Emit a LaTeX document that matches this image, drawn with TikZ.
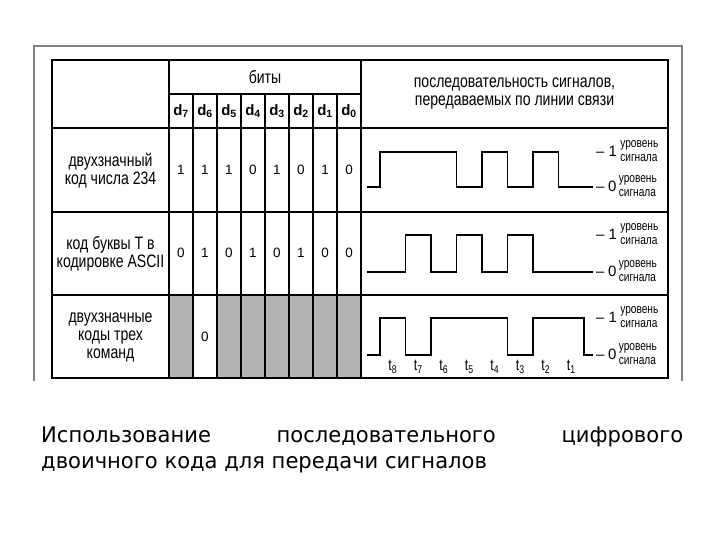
\documentclass[tikz,border=0pt]{standalone}
\usepackage{fontspec}
\setmainfont{Liberation Sans}
\newfontfamily\narrowfont{Liberation Sans}[FakeStretch=0.78]
\newfontfamily\capfont{DejaVu Sans}[FakeStretch=0.98]
\usetikzlibrary{positioning}
\definecolor{framegray}{RGB}{128,128,128}
\definecolor{cellgray}{RGB}{180,180,180}
\tikzset{
    grid line/.style={black, line width=1.8pt},
    thin grid/.style={black, line width=1.4pt},
    label text/.style={font=\narrowfont\fontsize{18}{18}\selectfont, align=center, inner sep=0pt},
    bit head/.style={font=\bfseries\fontsize{15}{15}\selectfont, inner sep=0pt},
    bit value/.style={font=\fontsize{13.5}{13.5}\selectfont, inner sep=0pt},
    wave/.style={black, line width=1.6pt, line join=miter},
    level digit/.style={font=\fontsize{15}{15}\selectfont, inner sep=0pt, anchor=west},
    level note/.style={font=\narrowfont\fontsize{13}{14.5}\selectfont, align=left, inner sep=0pt},
    time mark/.style={font=\narrowfont\fontsize{16}{16}\selectfont, inner sep=0pt},
    caption/.style={font=\capfont\fontsize{21.5}{26}\selectfont, inner sep=0pt, anchor=base west}
}
\begin{document}
\begin{tikzpicture}[x=1pt, y=-1pt]
    \useasboundingbox (0,0) rectangle (720,540);
    \draw[framegray, line width=2pt] (34,381) -- (34,46) -- (682,46) -- (682,381);

    % shaded cells of the last row
    \foreach \k in {0,2,3,4,5,6,7}
        \fill[cellgray] ({169+24*\k},295) rectangle ({193+24*\k},378);

    % table
    \draw[grid line] (52,60) rectangle (668,378);
    \draw[grid line] (52,128) -- (668,128);
    \draw[grid line] (52,212) -- (668,212);
    \draw[grid line] (52,295) -- (668,295);
    \draw[grid line] (169,60) -- (169,378);
    \draw[grid line] (361,60) -- (361,378);
    \draw[thin grid] (169,94) -- (361,94);
    \foreach \k in {1,...,7}
        \draw[thin grid] ({169+24*\k},94) -- ({169+24*\k},378);

    % headers
    \node[label text] (bits) at (265,77) {биты};
    \node[label text] (seqhead) at (514.5,94) {последовательность сигналов,\\передаваемых по линии связи};
    \foreach \i in {0,...,7}
        \node[bit head] (d\i) at ({181+24*(7-\i)},111) {d\textsubscript{\i}};

    % row labels
    \node[label text] (lab1) at (110.5,171) {двухзначный\\код числа 234};
    \node[label text] (lab2) at (110.5,254) {код буквы Т в\\кодировке ASCII};
    \node[label text] (lab3) at (110.5,337) {двухзначные\\коды трех\\команд};

    % bit values
    \foreach \b [count=\k from 0] in {1,1,1,0,1,0,1,0}
        \node[bit value] (ra\k) at ({181+24*\k},170) {\b};
    \foreach \b [count=\k from 0] in {0,1,0,1,0,1,0,0}
        \node[bit value] (rb\k) at ({181+24*\k},253) {\b};
    \node[bit value] (rc1) at (205,337) {0};

    % signals
    \draw[wave] (367,187) -- (380,187) -- (380,152) -- (456.5,152) -- (456.5,187) -- (482,187) -- (482,152)
        -- (507.5,152) -- (507.5,187) -- (533,187) -- (533,152) -- (558.5,152) -- (558.5,187) -- (593,187);
    \draw[wave] (367,272) -- (405.5,272) -- (405.5,235) -- (431,235) -- (431,272) -- (456.5,272) -- (456.5,235)
        -- (482,235) -- (482,272) -- (507.5,272) -- (507.5,235) -- (533,235) -- (533,272) -- (593,272);
    \draw[wave] (367,355) -- (380,355) -- (380,318) -- (405.5,318) -- (405.5,355) -- (431,355) -- (431,318)
        -- (507.5,318) -- (507.5,355) -- (533,355) -- (533,318) -- (584,318) -- (584,355) -- (593,355);

    % signal levels
    \foreach \r/\hi/\lo in {1/152/187, 2/235/272, 3/318/355} {
        \node[level digit] (one\r) at (596,\hi-1) {\textendash\hspace{4pt}1};
        \node[level note, right=3pt of one\r] (onenote\r) {уровень\\сигнала};
        \node[level digit] (zero\r) at (596,\lo-1) {\textendash\hspace{3.5pt}0};
        \node[level note, right=2pt of zero\r] (zeronote\r) {уровень\\сигнала};
    }

    % time marks
    \foreach \t [count=\k from 0] in {8,7,...,1}
        \node[time mark] (t\t) at ({392.75+25.5*\k},367) {t\textsubscript{\t}};

    % caption
    \node[caption] (capa) at (41,442) {\makebox[642pt][s]{Использование последовательного цифрового}};
    \node[caption] (capb) at (41,468.5) {двоичного кода для передачи сигналов};
\end{tikzpicture}
\end{document}
